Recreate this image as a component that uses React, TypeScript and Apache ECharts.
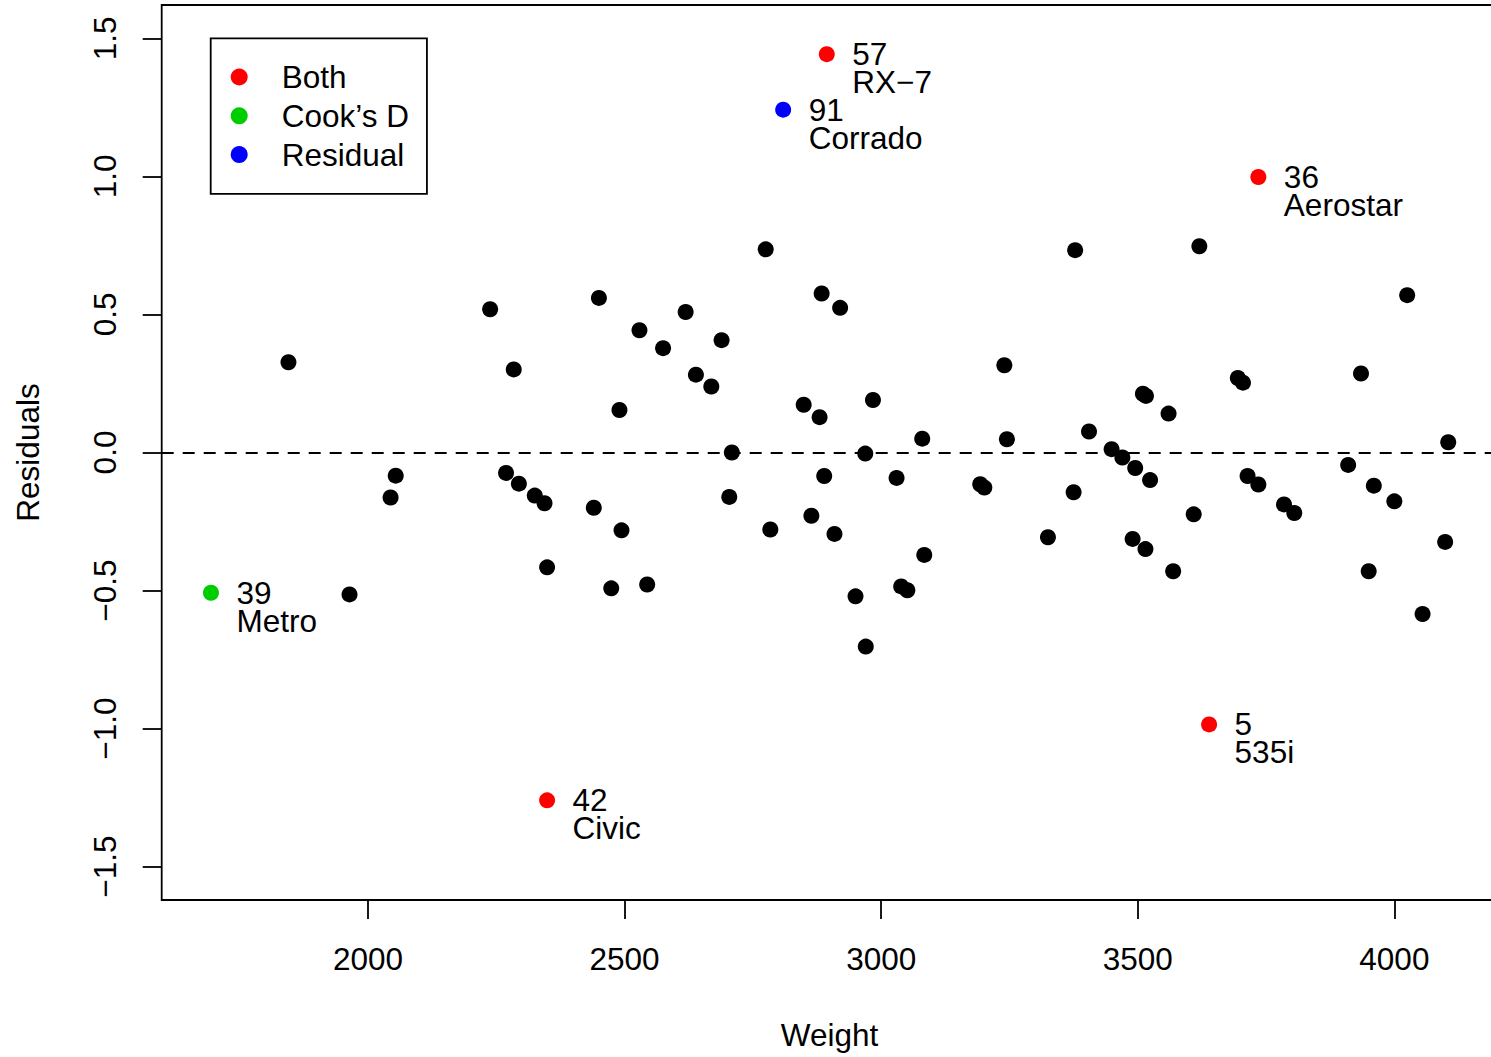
import React, { useEffect, useRef } from "react";
import * as echarts from "echarts";

// Axis ticks
const xTicks = [2000, 2500, 3000, 3500, 4000];
const yTicks = [-1.5, -1.0, -0.5, 0.0, 0.5, 1.0, 1.5];

// Ordinary observations (black)
const weights = [
  1845, 1964, 2044, 2054, 2238, 2269, 2284, 2294, 2325, 2344,
  2349, 2440, 2450, 2474, 2490, 2494, 2529, 2544, 2575, 2619,
  2639, 2669, 2689, 2704, 2709, 2775, 2784, 2849, 2864, 2880,
  2884, 2889, 2909, 2920, 2950, 2969, 2970, 2984, 3030, 3039,
  3051, 3080, 3084, 3193, 3201, 3240, 3245, 3325, 3375, 3378,
  3405, 3449, 3470, 3495, 3490, 3510, 3516, 3515, 3524, 3560,
  3569, 3609, 3620, 3695, 3705, 3714, 3735, 3785, 3805, 3910,
  3935, 3950, 3960, 4000, 4025, 4055, 4099, 4105,
];
const residuals = [
  0.327, -0.514, -0.163, -0.084, 0.519, -0.074, 0.301, -0.113, -0.156, -0.184,
  -0.416, -0.2, 0.56, -0.492, 0.154, -0.282, 0.443, -0.478, 0.378, 0.509,
  0.282, 0.239, 0.407, -0.161, 0.0, 0.736, -0.279, 0.173, -0.229, 0.128,
  0.576, -0.085, -0.295, 0.524, -0.521, -0.004, -0.703, 0.19, -0.092, -0.485,
  -0.499, 0.05, -0.371, -0.115, -0.127, 0.316, 0.048, -0.307, -0.144, 0.733,
  0.076, 0.012, -0.018, -0.056, -0.313, 0.213, 0.205, -0.35, -0.1, 0.141,
  -0.43, -0.224, 0.747, 0.27, 0.253, -0.085, -0.116, -0.188, -0.219, -0.045,
  0.286, -0.43, -0.12, -0.177, 0.57, -0.585, -0.324, 0.037,
];

// Flagged: both large residual and large Cook's D
const bothWeight = [2894, 3735, 3639, 2349];
const bothResid = [1.443, 0.998, -0.985, -1.26];
const bothIds = ["57", "36", "5", "42"];
const bothNames = ["RX\u22127", "Aerostar", "535i", "Civic"];

// Flagged: Cook's D only
const cookWeight = [1694];
const cookResid = [-0.508];
const cookIds = ["39"];
const cookNames = ["Metro"];

// Flagged: residual only
const residWeight = [2809];
const residResid = [1.242];
const residIds = ["91"];
const residNames = ["Corrado"];

const legendNames = ["Both", "Cook\u2019s D", "Residual"];

export default function App() {
  const ref = useRef<HTMLDivElement>(null);

  useEffect(() => {
    const chart = echarts.init(ref.current!, null, { renderer: "svg" });
    const FONT = "'Liberation Sans', Arial, Helvetica, sans-serif";
    const FS = 31.5;

    const flagged = (
      name: string,
      color: string,
      xs: number[],
      ys: number[],
      ids: string[],
      labs: string[]
    ) => ({
      name,
      type: "scatter",
      symbol: "circle",
      symbolSize: 16,
      z: 4,
      itemStyle: { color, opacity: 1 },
      label: {
        show: true,
        position: "right",
        distance: 17.5,
        verticalAlign: "top",
        offset: [0, -14],
        fontSize: FS,
        lineHeight: 28,
        fontFamily: FONT,
        color: "#000",
        formatter: (p: any) => ids[p.dataIndex] + "\n" + labs[p.dataIndex],
      },
      emphasis: { disabled: true },
      data: xs.map((x, i) => [x, ys[i]]),
    });

    const fmtY = (v: number) => (v < 0 ? "\u2212" : "") + Math.abs(v).toFixed(1);

    chart.setOption({
      animation: false,
      backgroundColor: "#fff",
      textStyle: { fontFamily: FONT },
      grid: {
        left: 161.7,
        top: 5,
        width: 1335.8,
        bottom: 157,
        show: true,
        borderColor: "#000",
        borderWidth: 1.8,
        containLabel: false,
        outerBoundsMode: "none",
      },
      legend: {
        orient: "vertical",
        left: 210.7,
        top: 38.3,
        padding: [22.7, 18, 23.2, 20],
        itemGap: 6.8,
        itemWidth: 17,
        itemHeight: 17,
        icon: "circle",
        borderColor: "#000",
        borderWidth: 1.8,
        selectedMode: false,
        textStyle: {
          fontSize: FS,
          lineHeight: 31.5,
          fontFamily: FONT,
          color: "#000",
          padding: [0, 0, 0, 29],
        },
        data: legendNames,
      },
      xAxis: {
        type: "value",
        min: 1598,
        max: 4201,
        name: "Weight",
        nameLocation: "middle",
        nameGap: 119,
        nameTextStyle: { fontSize: FS, fontFamily: FONT, color: "#000" },
        axisLine: { show: false, onZero: false },
        axisTick: {
          show: true,
          length: 19,
          customValues: xTicks,
          lineStyle: { color: "#000", width: 1.8 },
        },
        axisLabel: {
          customValues: xTicks,
          margin: 42.6,
          fontSize: FS,
          fontFamily: FONT,
          color: "#000",
          formatter: (v: number) => String(v),
        },
        splitLine: { show: false },
      },
      yAxis: {
        type: "value",
        min: -1.621,
        max: 1.621,
        name: "Residuals",
        nameLocation: "middle",
        nameRotate: 90,
        nameGap: 117.5,
        nameTextStyle: { fontSize: FS, fontFamily: FONT, color: "#000" },
        axisLine: { show: false, onZero: false },
        axisTick: {
          show: true,
          length: 19,
          customValues: yTicks,
          lineStyle: { color: "#000", width: 1.8 },
        },
        axisLabel: {
          customValues: yTicks,
          rotate: 90,
          margin: 41,
          fontSize: FS,
          fontFamily: FONT,
          color: "#000",
          formatter: fmtY,
        },
        splitLine: { show: false },
      },
      series: [
        {
          name: "obs",
          type: "scatter",
          symbol: "circle",
          symbolSize: 16,
          z: 3,
          itemStyle: { color: "#000", opacity: 1 },
          emphasis: { disabled: true },
          data: weights.map((w, i) => [w, residuals[i]]),
          markLine: {
            silent: true,
            symbol: ["none", "none"],
            label: { show: false },
            lineStyle: { color: "#000", width: 2, type: [12, 9] },
            data: [{ yAxis: 0 }],
          },
        },
        flagged(legendNames[0], "#FF0000", bothWeight, bothResid, bothIds, bothNames),
        flagged(legendNames[1], "#00CD00", cookWeight, cookResid, cookIds, cookNames),
        flagged(legendNames[2], "#0000FF", residWeight, residResid, residIds, residNames),
      ],
    });

    return () => chart.dispose();
  }, []);

  return (
    <div
      ref={ref}
      style={{ position: "fixed", left: 0, top: 0, width: 1491, height: 1057 }}
    />
  );
}
